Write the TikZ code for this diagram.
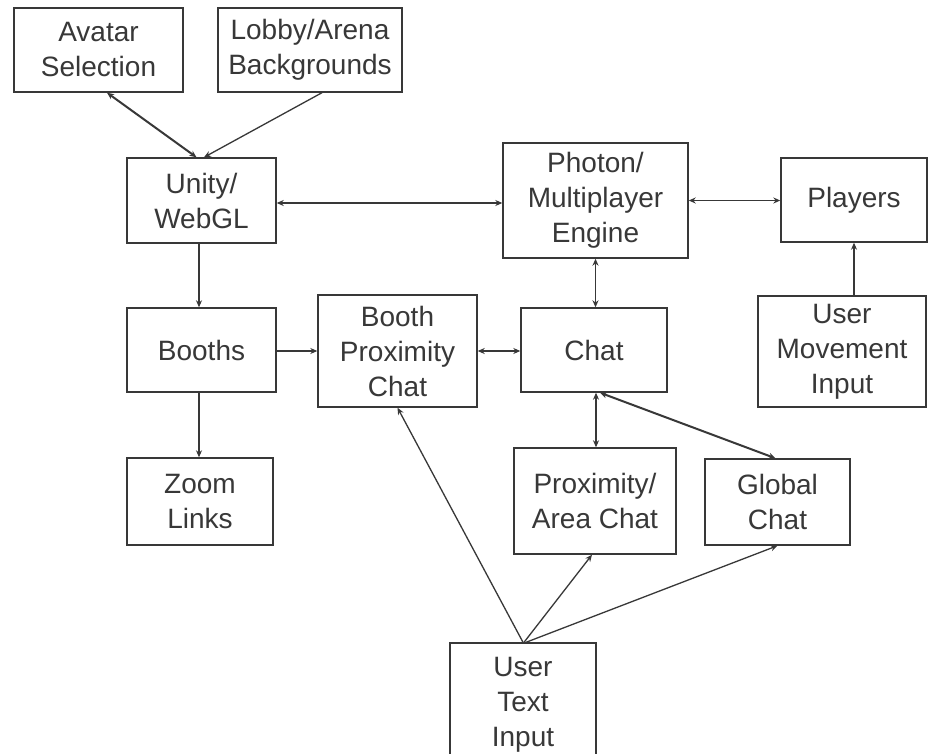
\documentclass[tikz,border=0pt]{standalone}
\usepackage{fontspec}
\setmainfont{Liberation Sans}
\usetikzlibrary{arrows.meta,calc}
\definecolor{ink}{HTML}{383838}
\tikzset{
  box/.style={draw=ink, line width=1.4pt, fill=white, align=center, text=ink,
    font=\fontsize{28}{35}\selectfont, inner sep=0pt},
  conn/.style={draw=ink, line width=1.3pt, -{Stealth[length=7pt,width=6pt]}},
  biconn/.style={draw=ink, line width=1.3pt, {Stealth[length=7pt,width=6pt]}-{Stealth[length=7pt,width=6pt]}},
  thick conn/.style={biconn, line width=2pt}
}
\begin{document}
\begin{tikzpicture}[x=1pt,y=-1pt]
\useasboundingbox[fill=white] (0,0) rectangle (936,754);
\begin{scope}
\clip (0,0) rectangle (936,754);
\node[box, minimum width=169pt, minimum height=84pt] (avatar) at (98.5,50) {Avatar\\Selection};
\node[box, minimum width=184pt, minimum height=84pt] (lobby) at (310,50) {Lobby/Arena\\Backgrounds};
\node[box, minimum width=149pt, minimum height=85pt] (unity) at (201.5,200.5) {Unity/\\WebGL};
\node[box, minimum width=185pt, minimum height=115pt] (photon) at (595.5,200.5) {Photon/\\Multiplayer\\Engine};
\node[box, minimum width=146pt, minimum height=84pt] (players) at (854,200) {Players};
\node[box, minimum width=149pt, minimum height=84pt] (booths) at (201.5,350) {Booths};
\node[box, minimum width=159pt, minimum height=112pt] (bpc) at (397.5,351) {Booth\\Proximity\\Chat};
\node[box, minimum width=146pt, minimum height=84pt] (chat) at (594,350) {Chat};
\node[box, minimum width=168pt, minimum height=111pt] (umi) at (842,351.5) {User\\Movement\\Input};
\node[box, minimum width=146pt, minimum height=87pt] (zoom) at (200,501.5) {Zoom\\Links};
\node[box, minimum width=162pt, minimum height=106pt] (prox) at (595,501) {Proximity/\\Area Chat};
\node[box, minimum width=145pt, minimum height=86pt] (global) at (777.5,502) {Global\\Chat};
\node[box, minimum width=146pt, minimum height=118pt, text depth=0pt] (uti) at (523,702) {User\\Text\\Input};
\end{scope}

\draw[thick conn] ([xshift=8.5pt]avatar.south) -- ([xshift=-5pt]unity.north);
\draw[conn] ([xshift=12pt]lobby.south) -- ([xshift=2.5pt]unity.north);
\draw[biconn] ([yshift=-2.5pt]unity.east) -- ([yshift=-2.5pt]unity.east -| photon.west);
\draw[biconn] (photon.east) -- (photon.east -| players.west);
\draw[conn] (players.south |- umi.north) -- (players.south);
\draw[conn] ([xshift=-2.5pt]unity.south) -- ([xshift=-2.5pt]unity.south |- booths.north);
\draw[conn] ([xshift=-2.5pt]booths.south) -- ([xshift=-2.5pt]booths.south |- zoom.north);
\draw[conn] ([yshift=-1pt]booths.east) -- ([yshift=-1pt]booths.east -| bpc.west);
\draw[biconn] (bpc.east) -- (bpc.east -| chat.west);
\draw[biconn] (photon.south) -- (photon.south |- chat.north);
\draw[biconn] ([xshift=2pt]chat.south) -- ([xshift=2pt]chat.south |- prox.north);
\draw[thick conn] ([xshift=6pt]chat.south) -- ([xshift=-2pt]global.north);
\draw[conn] (uti.north) -- (bpc.south);
\draw[conn] ([xshift=1pt]uti.north) -- ([xshift=-3pt]prox.south);
\draw[conn] ([xshift=3pt]uti.north) -- (global.south);
\end{tikzpicture}
\end{document}
